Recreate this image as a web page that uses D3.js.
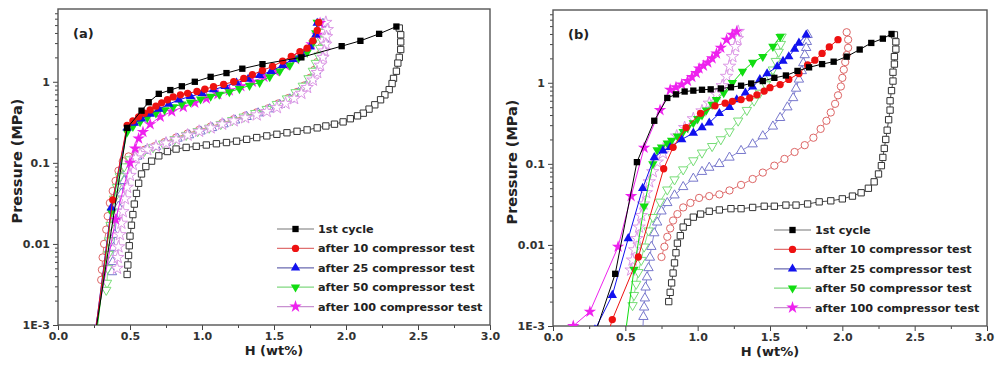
<!DOCTYPE html>
<html>
<head>
<meta charset="utf-8">
<script src="https://cdn.jsdelivr.net/npm/d3@7"></script>
<style>
  body { margin: 0; background: #fff; }
  svg { display: block; }
  text { font-family: "DejaVu Sans", Arial, sans-serif; font-weight: bold; }
</style>
</head>
<body>
<div id="chart"></div>
<script>
// legend names, shared by both panels
const seriesNames = ["1st cycle", "after 10 compressor test", "after 25 compressor test",
                     "after 50 compressor test", "after 100 compressor test"];

const xTickValues = [0, 0.5, 1.0, 1.5, 2.0, 2.5, 3.0];
const yTickValues = [0.001, 0.01, 0.1, 1];
const yTickLabels = ["1E-3", "0.01", "0.1", "1"];

// ---- panel (a) : [H wt%, P MPa] ----
const aAbs1st = [[0.25,0.0006],[0.48,0.27],[0.58,0.44],[0.63,0.56],[0.70,0.71],[0.78,0.79],[0.86,0.88],[0.95,1.0],[1.06,1.15],[1.17,1.28],[1.28,1.45],[1.42,1.65],[1.69,2.0],[1.97,2.75],[2.10,3.2],[2.23,3.9],[2.35,4.8]];
const aDes1st = [[2.37,4.6],[2.38,3.8],[2.38,3.1],[2.38,2.5],[2.37,2.0],[2.36,1.7],[2.35,1.35],[2.33,1.1],[2.32,0.95],[2.30,0.8],[2.27,0.69],[2.24,0.6],[2.20,0.52],[2.16,0.46],[2.12,0.41],[2.08,0.38],[2.03,0.35],[1.98,0.32],[1.92,0.3],[1.86,0.285],[1.80,0.27],[1.73,0.255],[1.66,0.245],[1.59,0.235],[1.52,0.225],[1.45,0.215],[1.38,0.205],[1.31,0.195],[1.24,0.185],[1.17,0.178],[1.10,0.172],[1.03,0.166],[0.96,0.16],[0.89,0.155],[0.82,0.148],[0.76,0.138],[0.70,0.122],[0.65,0.105],[0.61,0.09],[0.58,0.073],[0.56,0.056],[0.545,0.042],[0.53,0.031],[0.52,0.023],[0.51,0.017],[0.50,0.0125],[0.495,0.0095],[0.49,0.0072],[0.485,0.0055],[0.48,0.0042]];
const aAbs10 = [[0.25,0.0006],[0.38,0.035],[0.48,0.29],[0.52,0.33],[0.56,0.37],[0.60,0.41],[0.64,0.45],[0.68,0.5],[0.72,0.55],[0.76,0.6],[0.80,0.65],[0.85,0.69],[0.90,0.72],[0.965,0.76],[1.02,0.81],[1.08,0.87],[1.15,0.93],[1.22,1.0],[1.29,1.1],[1.35,1.22],[1.42,1.38],[1.49,1.55],[1.56,1.8],[1.62,2.05],[1.68,2.35],[1.73,2.6],[1.77,3.2],[1.80,4.3],[1.81,5.4]];
const aDes10 = [[1.83,5.3],[1.84,4.3],[1.84,3.4],[1.83,2.7],[1.82,2.2],[1.80,1.75],[1.78,1.4],[1.75,1.12],[1.71,0.9],[1.66,0.75],[1.60,0.63],[1.53,0.54],[1.46,0.47],[1.38,0.42],[1.30,0.38],[1.22,0.345],[1.14,0.31],[1.06,0.28],[0.98,0.255],[0.90,0.23],[0.82,0.205],[0.74,0.18],[0.67,0.16],[0.60,0.145],[0.54,0.13],[0.49,0.12],[0.45,0.105],[0.42,0.08],[0.40,0.06],[0.38,0.045],[0.36,0.032],[0.345,0.022],[0.335,0.015],[0.32,0.01],[0.31,0.0068],[0.305,0.0048],[0.30,0.0036]];
const aAbs25 = [[0.25,0.0006],[0.37,0.028],[0.48,0.27],[0.53,0.31],[0.58,0.35],[0.64,0.4],[0.70,0.46],[0.77,0.53],[0.84,0.6],[0.92,0.66],[1.0,0.72],[1.08,0.8],[1.16,0.88],[1.24,0.97],[1.32,1.08],[1.40,1.2],[1.48,1.35],[1.56,1.6],[1.63,1.9],[1.69,2.2],[1.75,2.7],[1.79,3.8],[1.80,5.3]];
const aDes25 = [[1.84,5.2],[1.85,4.2],[1.85,3.3],[1.84,2.6],[1.83,2.1],[1.81,1.7],[1.79,1.35],[1.76,1.08],[1.72,0.88],[1.67,0.73],[1.61,0.61],[1.54,0.52],[1.47,0.46],[1.39,0.41],[1.31,0.37],[1.23,0.335],[1.15,0.3],[1.07,0.27],[0.99,0.245],[0.91,0.22],[0.83,0.2],[0.75,0.177],[0.68,0.158],[0.61,0.142],[0.55,0.12],[0.51,0.1],[0.48,0.08],[0.46,0.06],[0.44,0.042],[0.42,0.029],[0.405,0.02],[0.395,0.013],[0.385,0.009],[0.38,0.006],[0.375,0.0045]];
const aAbs50 = [[0.26,0.0006],[0.37,0.025],[0.48,0.24],[0.52,0.28],[0.57,0.32],[0.62,0.36],[0.68,0.41],[0.74,0.45],[0.80,0.49],[0.86,0.53],[0.92,0.56],[0.99,0.61],[1.06,0.66],[1.12,0.7],[1.19,0.75],[1.26,0.82],[1.33,0.9],[1.40,0.98],[1.47,1.15],[1.54,1.35],[1.61,1.6],[1.67,1.95],[1.73,2.3],[1.77,3.0],[1.79,4.0],[1.80,5.4]];
const aDes50 = [[1.82,5.1],[1.83,4.1],[1.83,3.3],[1.82,2.6],[1.81,2.1],[1.79,1.7],[1.77,1.36],[1.74,1.1],[1.70,0.89],[1.65,0.74],[1.59,0.62],[1.52,0.53],[1.45,0.46],[1.37,0.41],[1.29,0.37],[1.21,0.335],[1.13,0.3],[1.05,0.27],[0.97,0.245],[0.89,0.22],[0.81,0.195],[0.73,0.172],[0.66,0.155],[0.60,0.14],[0.55,0.125],[0.50,0.11],[0.46,0.09],[0.43,0.068],[0.41,0.05],[0.39,0.036],[0.375,0.025],[0.365,0.017],[0.355,0.011],[0.35,0.0075],[0.345,0.005],[0.34,0.0033],[0.335,0.0027]];
const aAbs100 = [[0.24,0.0006],[0.40,0.02],[0.50,0.1],[0.535,0.15],[0.56,0.2],[0.59,0.24],[0.64,0.3],[0.71,0.37],[0.79,0.43],[0.87,0.49],[0.95,0.55],[1.03,0.62],[1.11,0.7],[1.19,0.78],[1.27,0.88],[1.35,1.0],[1.43,1.15],[1.51,1.35],[1.58,1.6],[1.65,1.9],[1.71,2.3],[1.76,2.9],[1.80,3.8],[1.82,5.3]];
const aDes100 = [[1.86,5.4],[1.87,4.4],[1.865,3.6],[1.86,2.9],[1.85,2.4],[1.84,2.0],[1.82,1.6],[1.80,1.3],[1.77,1.05],[1.73,0.85],[1.69,0.72],[1.64,0.62],[1.58,0.54],[1.52,0.48],[1.45,0.43],[1.38,0.39],[1.30,0.36],[1.22,0.33],[1.14,0.3],[1.06,0.27],[0.98,0.245],[0.90,0.22],[0.82,0.195],[0.75,0.175],[0.68,0.16],[0.62,0.145],[0.57,0.13],[0.54,0.115],[0.52,0.095],[0.50,0.07],[0.48,0.05],[0.465,0.036],[0.45,0.025],[0.44,0.018],[0.43,0.013],[0.42,0.0092],[0.415,0.0068],[0.41,0.005]];

// ---- panel (b) ----
const bAbs1st = [[0.30,0.0009],[0.43,0.0044],[0.58,0.105],[0.70,0.34],[0.79,0.65],[0.85,0.72],[0.91,0.78],[0.97,0.8],[1.03,0.82],[1.09,0.83],[1.16,0.85],[1.23,0.88],[1.30,0.92],[1.37,0.98],[1.45,1.05],[1.53,1.15],[1.61,1.23],[1.69,1.4],[1.77,1.55],[1.86,1.7],[1.94,1.82],[2.03,2.1],[2.12,2.57],[2.20,3.1],[2.28,3.5],[2.34,4.0]];
const bDes1st = [[2.36,3.9],[2.37,3.2],[2.37,2.6],[2.36,2.1],[2.36,1.7],[2.35,1.35],[2.35,1.05],[2.34,0.8],[2.33,0.6],[2.33,0.46],[2.32,0.35],[2.31,0.26],[2.30,0.2],[2.29,0.155],[2.28,0.12],[2.27,0.095],[2.25,0.075],[2.22,0.06],[2.18,0.05],[2.13,0.044],[2.07,0.04],[2.00,0.037],[1.92,0.035],[1.84,0.034],[1.76,0.032],[1.68,0.031],[1.61,0.031],[1.53,0.03],[1.46,0.03],[1.38,0.029],[1.30,0.028],[1.23,0.028],[1.15,0.027],[1.08,0.026],[1.02,0.024],[0.97,0.022],[0.93,0.019],[0.90,0.0166],[0.88,0.013],[0.86,0.0105],[0.85,0.008],[0.84,0.006],[0.83,0.0045],[0.82,0.0034],[0.81,0.0026],[0.80,0.002]];
const bAbs10 = [[0.37,0.0007],[0.41,0.0012],[0.59,0.0071],[0.765,0.087],[0.83,0.16],[0.92,0.28],[1.02,0.42],[1.12,0.52],[1.19,0.56],[1.24,0.59],[1.30,0.62],[1.36,0.65],[1.41,0.71],[1.46,0.79],[1.50,0.87],[1.57,0.95],[1.63,1.1],[1.70,1.3],[1.76,1.66],[1.81,1.9],[1.86,2.3],[1.91,2.77],[1.97,3.4]];
const bDes10 = [[2.03,4.2],[2.04,3.4],[2.04,2.7],[2.03,2.2],[2.02,1.8],[2.01,1.45],[2.00,1.15],[1.99,0.9],[1.97,0.7],[1.95,0.55],[1.92,0.43],[1.89,0.34],[1.85,0.27],[1.80,0.21],[1.74,0.17],[1.67,0.14],[1.60,0.115],[1.53,0.095],[1.45,0.078],[1.38,0.065],[1.30,0.055],[1.22,0.047],[1.15,0.042],[1.08,0.04],[1.01,0.038],[0.95,0.033],[0.90,0.029],[0.86,0.024],[0.83,0.02],[0.81,0.016],[0.79,0.0126],[0.77,0.0095],[0.75,0.0071]];
const bAbs25 = [[0.29,0.0009],[0.41,0.0024],[0.52,0.012],[0.62,0.05],[0.70,0.12],[0.76,0.145],[0.81,0.16],[0.89,0.2],[0.97,0.24],[1.03,0.28],[1.08,0.32],[1.15,0.42],[1.22,0.5],[1.27,0.62],[1.33,0.75],[1.38,0.89],[1.43,1.1],[1.48,1.3],[1.55,1.58],[1.59,1.85],[1.63,2.1],[1.67,2.6],[1.70,3.1],[1.75,3.9]];
const bDes25 = [[1.76,3.9],[1.755,3.2],[1.75,2.7],[1.74,2.2],[1.73,1.75],[1.72,1.4],[1.70,1.1],[1.68,0.85],[1.66,0.65],[1.62,0.5],[1.57,0.37],[1.52,0.29],[1.45,0.22],[1.38,0.175],[1.30,0.145],[1.22,0.12],[1.15,0.1],[1.08,0.09],[1.03,0.08],[0.97,0.066],[0.90,0.052],[0.84,0.041],[0.79,0.033],[0.75,0.026],[0.72,0.019],[0.70,0.014],[0.68,0.0095],[0.67,0.007],[0.66,0.0052],[0.65,0.004],[0.64,0.003],[0.635,0.0022],[0.63,0.0017],[0.625,0.0013],[0.62,0.0008]];
const bAbs50 = [[0.50,0.0008],[0.56,0.005],[0.63,0.03],[0.69,0.1],[0.72,0.148],[0.75,0.16],[0.79,0.18],[0.82,0.195],[0.86,0.22],[0.90,0.25],[0.93,0.28],[0.97,0.32],[1.00,0.36],[1.03,0.4],[1.06,0.46],[1.10,0.54],[1.13,0.62],[1.18,0.75],[1.24,1.0],[1.31,1.38],[1.38,1.78],[1.45,2.1],[1.52,2.8],[1.57,3.7]];
const bDes50 = [[1.58,3.7],[1.575,3.0],[1.56,2.4],[1.54,1.85],[1.52,1.45],[1.50,1.18],[1.47,0.95],[1.43,0.75],[1.39,0.6],[1.34,0.46],[1.28,0.34],[1.22,0.25],[1.16,0.2],[1.10,0.165],[1.03,0.137],[0.97,0.11],[0.90,0.085],[0.84,0.064],[0.79,0.048],[0.74,0.034],[0.69,0.022],[0.66,0.015],[0.63,0.0095],[0.61,0.0065],[0.59,0.0046],[0.575,0.0033],[0.56,0.0024],[0.55,0.0018]];
const bAbs100 = [[0.14,0.001],[0.255,0.0015],[0.45,0.0095],[0.54,0.04],[0.63,0.158],[0.74,0.46],[0.81,0.82],[0.85,0.88],[0.89,0.95],[0.93,1.05],[0.96,1.18],[0.99,1.32],[1.01,1.5],[1.04,1.62],[1.07,1.78],[1.10,2.0],[1.13,2.3],[1.16,2.7],[1.20,3.4],[1.24,3.9],[1.27,4.3]];
const bDes100 = [[1.28,4.3],[1.275,3.5],[1.26,2.8],[1.24,2.1],[1.22,1.6],[1.20,1.2],[1.17,0.92],[1.13,0.72],[1.08,0.56],[1.03,0.45],[0.97,0.36],[0.91,0.28],[0.855,0.22],[0.80,0.17],[0.76,0.135],[0.72,0.105],[0.69,0.08],[0.665,0.06],[0.645,0.044],[0.625,0.032],[0.61,0.023],[0.595,0.0166],[0.58,0.012],[0.565,0.0087],[0.55,0.0065],[0.54,0.0049]];

// styles
const absColors = ["#000000", "#ee1111", "#1111ee", "#11dd11", "#ee22ee"];
const desColors = ["#333333", "#dd6666", "#7777cc", "#77dd77", "#dd99e6"];
const legLineColors = ["#777777", "#e07070", "#6a6ab0", "#80d880", "#c890d0"];
const symTypes = [d3.symbolSquare, d3.symbolCircle, d3.symbolTriangle, d3.symbolTriangle, d3.symbolStar];
const symSizes = [40, 42, 38, 38, 48];
const symRotate = [0, 0, 0, 180, 0];

const svg = d3.select("#chart").append("svg").attr("width", 995).attr("height", 366);

function drawPanel(id, left, top, W, H, label, abs, des) {
  const g = svg.append("g").attr("transform", "translate(" + left + "," + top + ")");
  const x = d3.scaleLinear().domain([0, 3]).range([0, W]);
  const y = d3.scaleLog().domain([0.001, 7.9]).range([H, 0]);

  g.append("clipPath").attr("id", id).append("rect").attr("width", W).attr("height", H);

  // axes
  g.append("g").attr("transform", "translate(0," + H + ")")
    .call(d3.axisBottom(x).tickValues(xTickValues).tickFormat(d3.format(".1f")).tickSize(5).tickPadding(2));
  g.append("g").attr("transform", "translate(0," + H + ")")
    .call(d3.axisBottom(x).tickValues([0.25, 0.75, 1.25, 1.75, 2.25, 2.75]).tickFormat("").tickSize(3));
  g.append("g")
    .call(d3.axisLeft(y).tickValues(yTickValues).tickFormat((d, i) => yTickLabels[i]).tickSize(5).tickPadding(3));
  const minor = [];
  [0.001, 0.01, 0.1, 1].forEach(dec => d3.range(2, 10).forEach(k => { if (k * dec < 7.9) minor.push(k * dec); }));
  g.append("g").call(d3.axisLeft(y).tickValues(minor).tickFormat("").tickSize(3));
  g.selectAll(".domain").remove();
  g.selectAll(".tick line").attr("stroke", "#444");
  g.selectAll(".tick text").attr("fill", "#333").style("font-size", "11px");
  // keep the last x label inside the page
  if (left + W > 980) g.selectAll(".tick text").filter(d => d === 3.0).attr("dx", "-3");

  g.append("rect").attr("width", W).attr("height", H)
    .attr("fill", "none").attr("stroke", "#555").attr("stroke-width", 1.4);

  const plot = g.append("g").attr("clip-path", "url(#" + id + ")");
  const line = d3.line().x(d => x(d[0])).y(d => y(d[1]));
  const sym = i => d3.symbol().type(symTypes[i]).size(symSizes[i]);

  // desorption (open symbols)
  des.forEach((data, i) => {
    plot.append("path").datum(data).attr("d", line)
      .attr("fill", "none").attr("stroke", desColors[i]).attr("stroke-width", 0.9);
    plot.selectAll(null).data(data).enter().append("path")
      .attr("d", sym(i))
      .attr("transform", d => "translate(" + x(d[0]) + "," + y(d[1]) + ") rotate(" + symRotate[i] + ")")
      .attr("fill", "#fff").attr("stroke", desColors[i]).attr("stroke-width", 1);
  });
  // absorption (filled symbols), black drawn last
  [4, 3, 2, 1, 0].forEach(i => {
    plot.append("path").datum(abs[i]).attr("d", line)
      .attr("fill", "none").attr("stroke", absColors[i]).attr("stroke-width", 1);
    plot.selectAll(null).data(abs[i]).enter().append("path")
      .attr("d", sym(i))
      .attr("transform", d => "translate(" + x(d[0]) + "," + y(d[1]) + ") rotate(" + symRotate[i] + ")")
      .attr("fill", absColors[i]);
  });

  // titles
  g.append("text").attr("x", 15).attr("y", 29).style("font-size", "13px").attr("fill", "#222").text(label);
  g.append("text").attr("x", W / 2).attr("y", H + 30).attr("text-anchor", "middle")
    .style("font-size", "13px").attr("fill", "#222").text("H (wt%)");
  g.append("text").attr("transform", "translate(-36," + (H / 2 - 6) + ") rotate(-90)")
    .attr("text-anchor", "middle").style("font-size", "14.5px").attr("fill", "#222").text("Pressure (MPa)");

  // legend
  const leg = g.append("g").attr("transform", "translate(" + (W - 213) + ",220)");
  seriesNames.forEach((name, i) => {
    const r = leg.append("g").attr("transform", "translate(0," + (i * 19.4) + ")");
    r.append("line").attr("x1", 0).attr("x2", 37).attr("stroke", legLineColors[i]).attr("stroke-width", 1.2);
    r.append("path").attr("d", sym(i)).attr("transform", "translate(18.5,0) rotate(" + symRotate[i] + ")")
      .attr("fill", absColors[i]);
    r.append("text").attr("x", 41).attr("dy", "0.36em").style("font-size", "11.2px").attr("fill", "#222").text(name);
  });
}

drawPanel("clipA", 58, 9, 432, 316, "(a)",
  [aAbs1st, aAbs10, aAbs25, aAbs50, aAbs100], [aDes1st, aDes10, aDes25, aDes50, aDes100]);
drawPanel("clipB", 553, 10, 434, 316, "(b)",
  [bAbs1st, bAbs10, bAbs25, bAbs50, bAbs100], [bDes1st, bDes10, bDes25, bDes50, bDes100]);
</script>
</body>
</html>
